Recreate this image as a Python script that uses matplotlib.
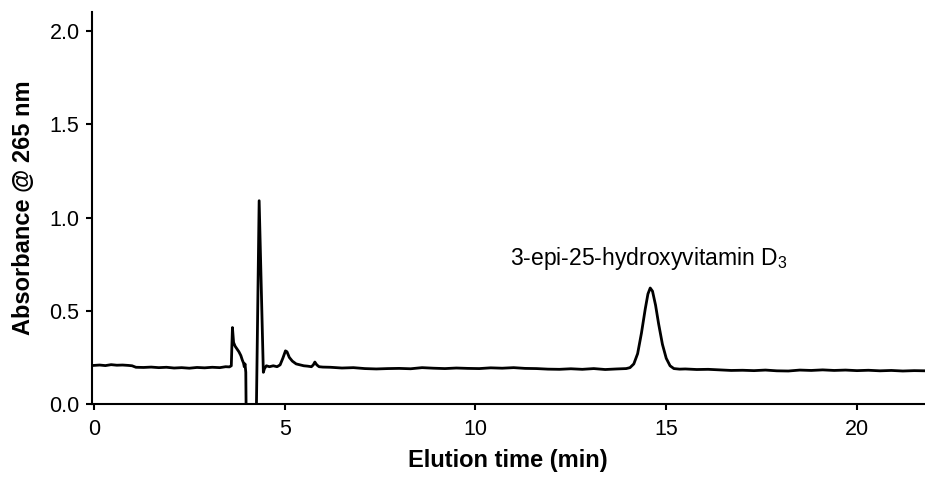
import matplotlib
matplotlib.use("Agg")
import matplotlib.pyplot as plt

plt.rcParams['font.family'] = ['Liberation Sans', 'DejaVu Sans']
plt.rcParams['mathtext.fontset'] = 'custom'
plt.rcParams['mathtext.rm'] = 'Liberation Sans'
plt.rcParams['mathtext.it'] = 'Liberation Sans:italic'

# chromatogram trace (min, absorbance)
time_min = [
    0.0, 0.15, 0.3, 0.45, 0.6, 0.75, 0.9, 1.0, 1.1, 1.3, 1.5, 1.7, 1.9, 2.1,
    2.3, 2.5, 2.7, 2.9, 3.1, 3.3, 3.45, 3.55,
    3.60, 3.63, 3.66, 3.70, 3.75, 3.80, 3.85, 3.89, 3.92, 3.94, 3.96, 3.98,
    4.00, 4.24, 4.33, 4.44, 4.47, 4.52, 4.6, 4.7, 4.8, 4.88, 4.95, 5.02,
    5.06, 5.12, 5.2, 5.3, 5.4, 5.5, 5.6, 5.7, 5.75, 5.79, 5.84, 5.9, 6.0,
    6.2, 6.5, 6.8, 7.1, 7.4, 7.7, 8.0, 8.3, 8.6, 8.9, 9.2, 9.5, 9.8, 10.1,
    10.4, 10.7, 11.0, 11.3, 11.6, 11.9, 12.2, 12.5, 12.8, 13.1, 13.4, 13.7,
    13.95,
    14.05, 14.15, 14.25, 14.35, 14.45, 14.52, 14.58, 14.64, 14.72, 14.8,
    14.9, 15.0, 15.1, 15.2, 15.35,
    15.5, 15.8, 16.1, 16.4, 16.7, 17.0, 17.3, 17.6, 17.9, 18.2, 18.5, 18.8,
    19.1, 19.4, 19.7, 20.0, 20.3, 20.6, 20.9, 21.2, 21.5, 21.8,
]
absorbance = [
    0.207, 0.209, 0.206, 0.211, 0.208, 0.209, 0.207, 0.205, 0.197, 0.196,
    0.198, 0.195, 0.197, 0.193, 0.195, 0.192, 0.196, 0.194, 0.197, 0.195,
    0.200, 0.199,
    0.205, 0.41, 0.33, 0.31, 0.295, 0.28, 0.26, 0.235, 0.22, 0.20, 0.215,
    0.17, -0.3, -0.3, 1.09, 0.17, 0.19, 0.205, 0.20, 0.205, 0.20, 0.21,
    0.245, 0.285, 0.28, 0.25, 0.23, 0.215, 0.21, 0.205, 0.203, 0.20, 0.21,
    0.225, 0.21, 0.20, 0.198,
    0.197, 0.193, 0.195, 0.19, 0.188, 0.19, 0.191, 0.189, 0.195, 0.192,
    0.19, 0.193, 0.191, 0.19, 0.194, 0.192, 0.195, 0.191, 0.19, 0.187,
    0.186, 0.189, 0.186, 0.19, 0.185, 0.188, 0.19,
    0.195, 0.215, 0.27, 0.38, 0.51, 0.59, 0.622, 0.605, 0.53, 0.43, 0.32,
    0.245, 0.205, 0.19, 0.187,
    0.188, 0.185, 0.186, 0.183, 0.18, 0.181, 0.179, 0.182, 0.178, 0.177,
    0.182, 0.18, 0.183, 0.18, 0.182, 0.179, 0.181, 0.178, 0.18, 0.177,
    0.179, 0.178,
]

x_ticks = [0, 5, 10, 15, 20]
y_ticks = [0.0, 0.5, 1.0, 1.5, 2.0]
y_tick_labels = ['0.0', '0.5', '1.0', '1.5', '2.0']

peak_label = r'3-epi-25-hydroxyvitamin D$_3$'
peak_label_pos = (14.55, 0.745)

fig = plt.figure(figsize=(9.25, 4.8), dpi=100)
ax = fig.add_axes([0.0995, 0.1583, 0.9, 0.816])

ax.plot(time_min, absorbance, color='black', linewidth=2.0)

ax.set_xlim(-0.05, 21.77)
ax.set_ylim(0, 2.1)
ax.set_xticks(x_ticks)
ax.set_yticks(y_ticks)
ax.set_yticklabels(y_tick_labels)

for side in ['top', 'right']:
    ax.spines[side].set_visible(False)
for side in ['left', 'bottom']:
    ax.spines[side].set_linewidth(1.5)

ax.tick_params(axis='both', direction='out', length=4, width=1.5,
               labelsize=15.5)
ax.tick_params(axis='x', pad=7)
ax.tick_params(axis='y', pad=5)

ax.set_xlabel('Elution time (min)', fontsize=17, fontweight='bold', labelpad=6)
ax.set_ylabel('Absorbance @ 265 nm', fontsize=17, fontweight='bold', labelpad=10)

ax.text(peak_label_pos[0], peak_label_pos[1], peak_label, fontsize=16.5,
        ha='center', va='baseline')

fig.savefig('out.png', dpi=100)
